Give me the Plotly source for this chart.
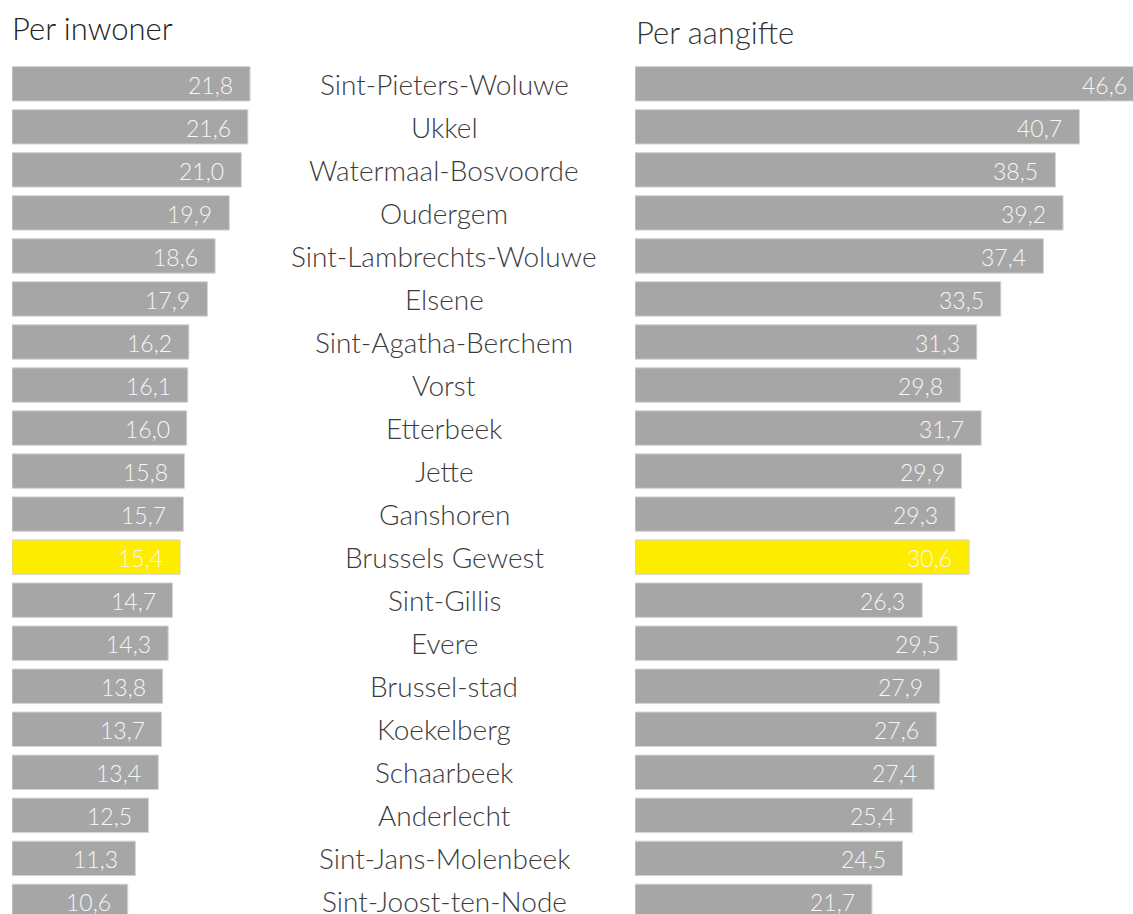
import plotly.graph_objects as go
from plotly.subplots import make_subplots

gemeenten = [
    "Sint-Pieters-Woluwe", "Ukkel", "Watermaal-Bosvoorde", "Oudergem",
    "Sint-Lambrechts-Woluwe", "Elsene", "Sint-Agatha-Berchem", "Vorst",
    "Etterbeek", "Jette", "Ganshoren", "Brussels Gewest", "Sint-Gillis",
    "Evere", "Brussel-stad", "Koekelberg", "Schaarbeek", "Anderlecht",
    "Sint-Jans-Molenbeek", "Sint-Joost-ten-Node",
]
per_inwoner = [21.8, 21.6, 21.0, 19.9, 18.6, 17.9, 16.2, 16.1, 16.0, 15.8,
               15.7, 15.4, 14.7, 14.3, 13.8, 13.7, 13.4, 12.5, 11.3, 10.6]
per_aangifte = [46.6, 40.7, 38.5, 39.2, 37.4, 33.5, 31.3, 29.8, 31.7, 29.9,
                29.3, 30.6, 26.3, 29.5, 27.9, 27.6, 27.4, 25.4, 24.5, 21.7]

W, H = 1133, 914
PX = 10.92           # pixels per unit, same for both panels
GRIJS = "#a6a6a6"
GEEL = "#ffed00"
FONT = "Lato Light, Lato"


def px_x(s):
    return s / W


def px_y(s):
    return 1 - s / H


kleuren = [GEEL if g == "Brussels Gewest" else GRIJS for g in gemeenten]

links_max = 25
rechts_max = (W - 635) / PX   # top bar runs off the right edge, as in the original

fig = make_subplots(rows=1, cols=2)

for col, waarden in [(1, per_inwoner), (2, per_aangifte)]:
    fig.add_trace(go.Bar(
        x=waarden, y=gemeenten, orientation="h",
        marker=dict(color=kleuren, line=dict(color="#d4d4d4", width=1)),
        showlegend=False, hoverinfo="x+y",
    ), row=1, col=col)

# value labels inside bar ends (domain refs so the clipped top bar keeps its label)
for xref, yref, xmax, waarden in [("x domain", "y", links_max, per_inwoner),
                                  ("x2 domain", "y2", rechts_max, per_aangifte)]:
    for g, v in zip(gemeenten, waarden):
        fig.add_annotation(
            x=v / xmax, y=g, xref=xref, yref=yref, text=f"{v:.1f}".replace(".", ","),
            showarrow=False, xanchor="right", xshift=-15, yshift=-1,
            font=dict(family=FONT, size=23, color="#f6f6f6", weight=300),
        )

# municipality names in the middle
for g in gemeenten:
    fig.add_annotation(
        x=px_x(444), y=g, xref="paper", yref="y", text=g, showarrow=False,
        xanchor="center",
        font=dict(family=FONT, size=28, color="#3c3c3c", weight=300),
    )

fig.add_annotation(x=px_x(10), y=px_y(28), xref="paper", yref="paper",
                   text="Per inwoner", showarrow=False, xanchor="left",
                   yanchor="middle", font=dict(family=FONT, size=31, color="#222", weight=300))
fig.add_annotation(x=px_x(634), y=px_y(32), xref="paper", yref="paper",
                   text="Per aangifte", showarrow=False, xanchor="left",
                   yanchor="middle", font=dict(family=FONT, size=31, color="#333", weight=300))

ytop = 62.3
pitch = 43.03
yrange = [(H - ytop) / pitch - 0.5, -0.5]
ydom = [0, 1 - ytop / H]

fig.update_layout(
    width=W, height=H,
    margin=dict(l=0, r=0, t=0, b=0),
    paper_bgcolor="white", plot_bgcolor="white",
    bargap=0.2,
    font=dict(family=FONT),
    xaxis=dict(domain=[px_x(12), px_x(12) + links_max * PX / W], range=[0, links_max],
               visible=False, fixedrange=True),
    xaxis2=dict(domain=[px_x(635), 1], range=[0, rechts_max],
                visible=False, fixedrange=True),
    yaxis=dict(domain=ydom, range=yrange, visible=False, type="category",
               categoryorder="array", categoryarray=gemeenten, fixedrange=True),
    yaxis2=dict(domain=ydom, range=yrange, visible=False, type="category",
                categoryorder="array", categoryarray=gemeenten, fixedrange=True),
)

# drop the default page margin so the figure fills the window exactly
fig.write_html("out.html", config={"displayModeBar": False},
               post_script="document.body.style.margin='0';"
               "document.body.style.overflow='hidden';")
